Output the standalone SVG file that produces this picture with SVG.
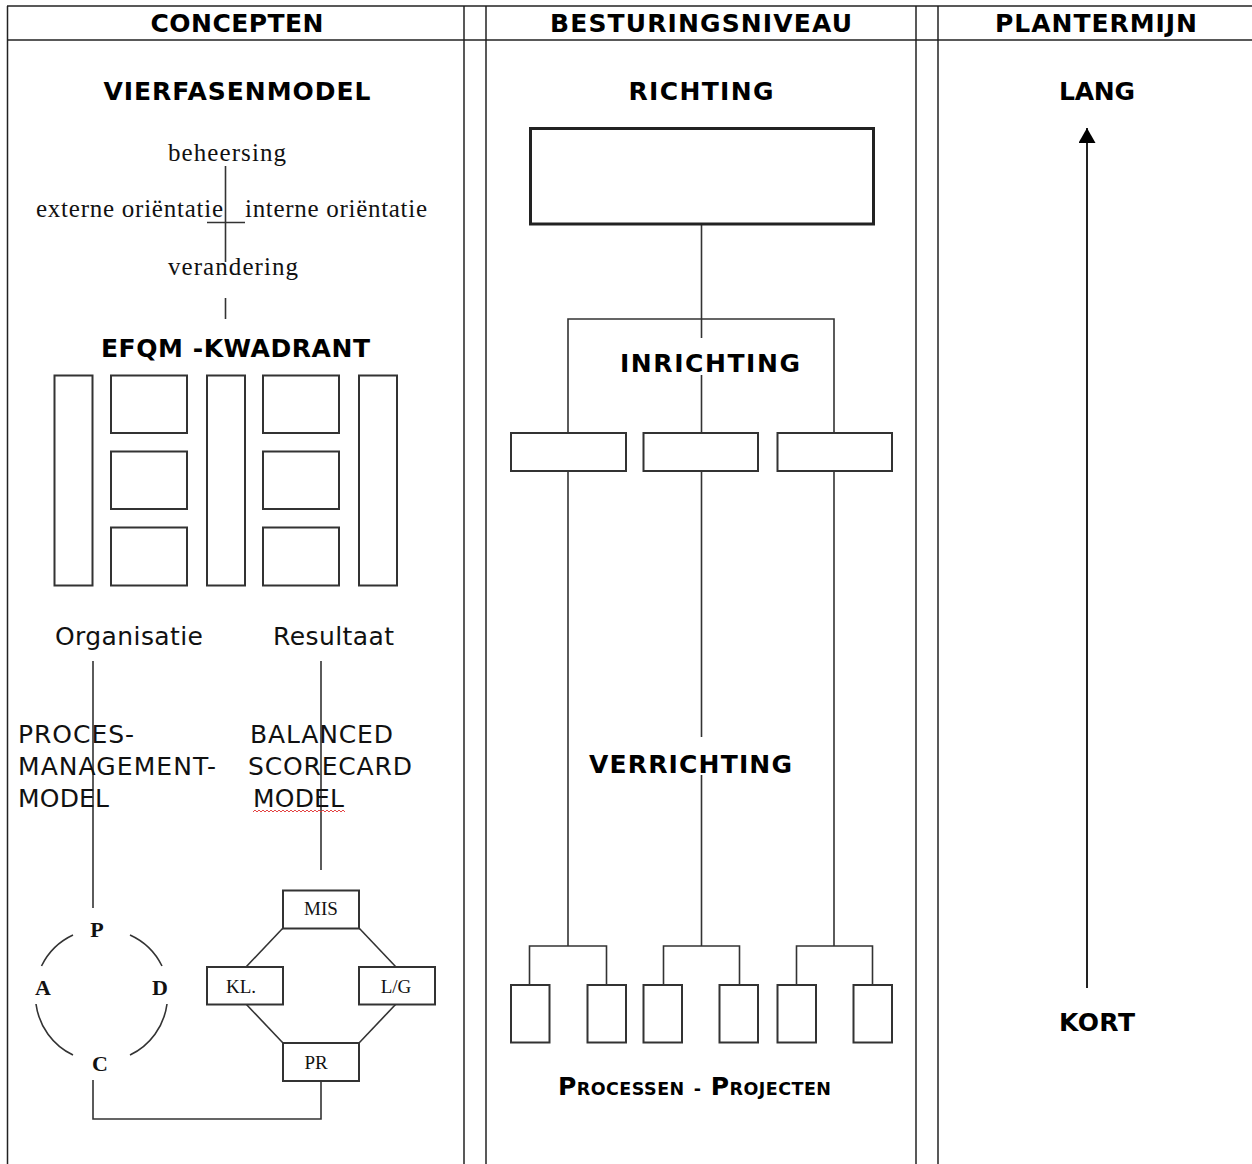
<svg xmlns="http://www.w3.org/2000/svg" width="1252" height="1164" viewBox="0 0 1252 1164">
<style>
.frame{stroke:#222;stroke-width:1.5;fill:none}
.ln{stroke:#333;stroke-width:1.6;fill:none}
.box{stroke:#333;stroke-width:2;fill:#fff}
.thick{stroke:#222;stroke-width:3;fill:#fff}
.h{font-family:"DejaVu Sans","Verdana",sans-serif;font-weight:bold;font-size:25px;fill:#000}
.v{font-family:"DejaVu Sans","Verdana",sans-serif;font-size:25px;fill:#111}
.s{font-family:"Liberation Serif","Times New Roman",serif;font-size:25px;fill:#111}
.sb{font-family:"Liberation Serif","Times New Roman",serif;font-weight:bold;font-size:22px;fill:#111}
.sm{font-family:"Liberation Serif","Times New Roman",serif;font-size:19px;fill:#111}
</style>
<defs>
<marker id="arr" markerWidth="15" markerHeight="17" refX="15" refY="8.5" orient="auto" markerUnits="userSpaceOnUse" viewBox="0 0 15 17">
<path d="M0,0 L15,8.5 L0,17 Z" fill="#000"/>
</marker>
</defs>
<rect width="1252" height="1164" fill="#fff"/>

<g id="frame">
<line class="frame" x1="7" y1="6" x2="1252" y2="6"/>
<line class="frame" x1="7" y1="40" x2="1252" y2="40"/>
<line class="frame" x1="7.5" y1="6" x2="7.5" y2="1164"/>
<line class="frame" x1="464" y1="6" x2="464" y2="1164"/>
<line class="frame" x1="486" y1="6" x2="486" y2="1164"/>
<line class="frame" x1="916" y1="6" x2="916" y2="1164"/>
<line class="frame" x1="938" y1="6" x2="938" y2="1164"/>
<text class="h" x="237" y="32" text-anchor="middle" textLength="173">CONCEPTEN</text>
<text class="h" x="701" y="32" text-anchor="middle" textLength="302">BESTURINGSNIVEAU</text>
<text class="h" x="1096" y="32" text-anchor="middle" textLength="202">PLANTERMIJN</text>
</g>

<g id="connectors">
<line class="ln" x1="225.5" y1="166" x2="225.5" y2="262"/>
<line class="ln" x1="207" y1="222.5" x2="245" y2="222.5"/>
<line class="ln" x1="225.5" y1="298" x2="225.5" y2="319"/>
<line class="ln" x1="93" y1="661" x2="93" y2="908"/>
<line class="ln" x1="321" y1="661" x2="321" y2="870"/>
<polyline class="ln" points="93,1080 93,1119 321,1119 321,1081"/>
<line class="ln" x1="283" y1="928" x2="246" y2="967"/>
<line class="ln" x1="359" y1="928" x2="396" y2="967"/>
<line class="ln" x1="246" y1="1004" x2="283" y2="1043"/>
<line class="ln" x1="396" y1="1004" x2="359" y2="1043"/>
<path class="ln" d="M73,935 A66,66 0 0 0 41.5,966"/>
<path class="ln" d="M130,935 A66,66 0 0 1 162,966"/>
<path class="ln" d="M36,1004 A66,66 0 0 0 73,1055"/>
<path class="ln" d="M167,1004 A66,66 0 0 1 130,1055"/>
<line class="ln" x1="701.5" y1="224" x2="701.5" y2="338"/>
<line class="ln" x1="701.5" y1="375" x2="701.5" y2="433"/>
<polyline class="ln" points="568,433 568,319 834,319 834,433"/>
<line class="ln" x1="568" y1="471" x2="568" y2="946"/>
<line class="ln" x1="701.5" y1="471" x2="701.5" y2="737"/>
<line class="ln" x1="701.5" y1="775" x2="701.5" y2="946"/>
<line class="ln" x1="834" y1="471" x2="834" y2="946"/>
<polyline class="ln" points="529.5,985 529.5,946 606.5,946 606.5,985"/>
<polyline class="ln" points="663.5,985 663.5,946 739.5,946 739.5,985"/>
<polyline class="ln" points="796.5,985 796.5,946 872.5,946 872.5,985"/>
<line x1="1087" y1="988" x2="1087" y2="128" stroke="#222" stroke-width="2" marker-end="url(#arr)"/>
<path d="M253,812 l2,-2 2,2 2,-2 2,2 2,-2 2,2 2,-2 2,2 2,-2 2,2 2,-2 2,2 2,-2 2,2 2,-2 2,2 2,-2 2,2 2,-2 2,2 2,-2 2,2 2,-2 2,2 2,-2 2,2 2,-2 2,2 2,-2 2,2 2,-2 2,2 2,-2 2,2 2,-2 2,2 2,-2 2,2 2,-2 2,2 2,-2 2,2 2,-2 2,2 2,-2 2,2" fill="none" stroke="#e03030" stroke-width="0.9"/>
</g>

<g id="vierfasenmodel">
<text class="h" x="237" y="100" text-anchor="middle" textLength="267">VIERFASENMODEL</text>
<text class="s" x="168" y="161" textLength="118">beheersing</text>
<text class="s" x="36" y="217" textLength="187">externe oriëntatie</text>
<text class="s" x="245" y="217" textLength="182">interne oriëntatie</text>
<text class="s" x="168" y="275" textLength="130">verandering</text>
</g>

<g id="efqm">
<text class="h" x="101" y="357" textLength="269">EFQM -KWADRANT</text>
<rect class="box" x="54.5" y="375.5" width="38" height="210"/>
<rect class="box" x="111" y="375.5" width="76" height="57.5"/>
<rect class="box" x="111" y="451.5" width="76" height="57.5"/>
<rect class="box" x="111" y="527.5" width="76" height="58"/>
<rect class="box" x="207" y="375.5" width="38" height="210"/>
<rect class="box" x="263" y="375.5" width="76" height="57.5"/>
<rect class="box" x="263" y="451.5" width="76" height="57.5"/>
<rect class="box" x="263" y="527.5" width="76" height="58"/>
<rect class="box" x="359" y="375.5" width="38" height="210"/>
<text class="v" x="55" y="645" textLength="148">Organisatie</text>
<text class="v" x="273" y="645" textLength="121">Resultaat</text>
</g>

<g id="procesmanagement">
<text class="v" x="18" y="743" textLength="116">PROCES-</text>
<text class="v" x="18" y="775" textLength="198">MANAGEMENT-</text>
<text class="v" x="18" y="807" textLength="91">MODEL</text>
</g>

<g id="balanced-scorecard">
<text class="v" x="250" y="743" textLength="143">BALANCED</text>
<text class="v" x="248" y="775" textLength="164">SCORECARD</text>
<text class="v" x="253" y="807" textLength="91">MODEL</text>
</g>

<g id="pdca">
<text class="sb" x="97" y="937" text-anchor="middle">P</text>
<text class="sb" x="43" y="995" text-anchor="middle">A</text>
<text class="sb" x="160" y="995" text-anchor="middle">D</text>
<text class="sb" x="100" y="1071" text-anchor="middle">C</text>
</g>

<g id="bsc-mis"><rect class="box" x="283" y="890.5" width="76" height="38"/><text class="sm" x="321" y="915" text-anchor="middle">MIS</text></g>
<g id="bsc-kl"><rect class="box" x="207" y="967" width="76" height="37.5"/><text class="sm" x="241" y="993" text-anchor="middle">KL.</text></g>
<g id="bsc-lg"><rect class="box" x="359" y="967" width="76" height="37.5"/><text class="sm" x="396" y="993" text-anchor="middle">L/G</text></g>
<g id="bsc-pr"><rect class="box" x="283" y="1043" width="76" height="38"/><text class="sm" x="316" y="1069" text-anchor="middle">PR</text></g>

<g id="richting">
<text class="h" x="701" y="100" text-anchor="middle" textLength="145">RICHTING</text>
<rect class="thick" x="530.5" y="128.5" width="343" height="95.5"/>
</g>

<g id="inrichting">
<text class="h" x="710" y="372" text-anchor="middle" textLength="180">INRICHTING</text>
<rect class="box" x="511" y="433" width="115" height="38"/>
<rect class="box" x="643.5" y="433" width="114.5" height="38"/>
<rect class="box" x="777.5" y="433" width="114.5" height="38"/>
</g>

<g id="verrichting">
<text class="h" x="690.5" y="773" text-anchor="middle" textLength="203">VERRICHTING</text>
<rect class="box" x="511" y="985" width="38.5" height="57.5"/>
<rect class="box" x="587.5" y="985" width="38.5" height="57.5"/>
<rect class="box" x="643.5" y="985" width="38.5" height="57.5"/>
<rect class="box" x="719.5" y="985" width="38.5" height="57.5"/>
<rect class="box" x="777.5" y="985" width="38.5" height="57.5"/>
<rect class="box" x="853.5" y="985" width="38.5" height="57.5"/>
<text class="h" x="558" y="1095" textLength="273" font-size="23"><tspan>P</tspan><tspan font-size="17.5">ROCESSEN</tspan> <tspan font-size="17.5">-</tspan> <tspan>P</tspan><tspan font-size="17.5">ROJECTEN</tspan></text>
</g>

<g id="plantermijn">
<text class="h" x="1097" y="100" text-anchor="middle" textLength="76">LANG</text>
<text class="h" x="1097" y="1031" text-anchor="middle" textLength="76">KORT</text>
</g>
</svg>
